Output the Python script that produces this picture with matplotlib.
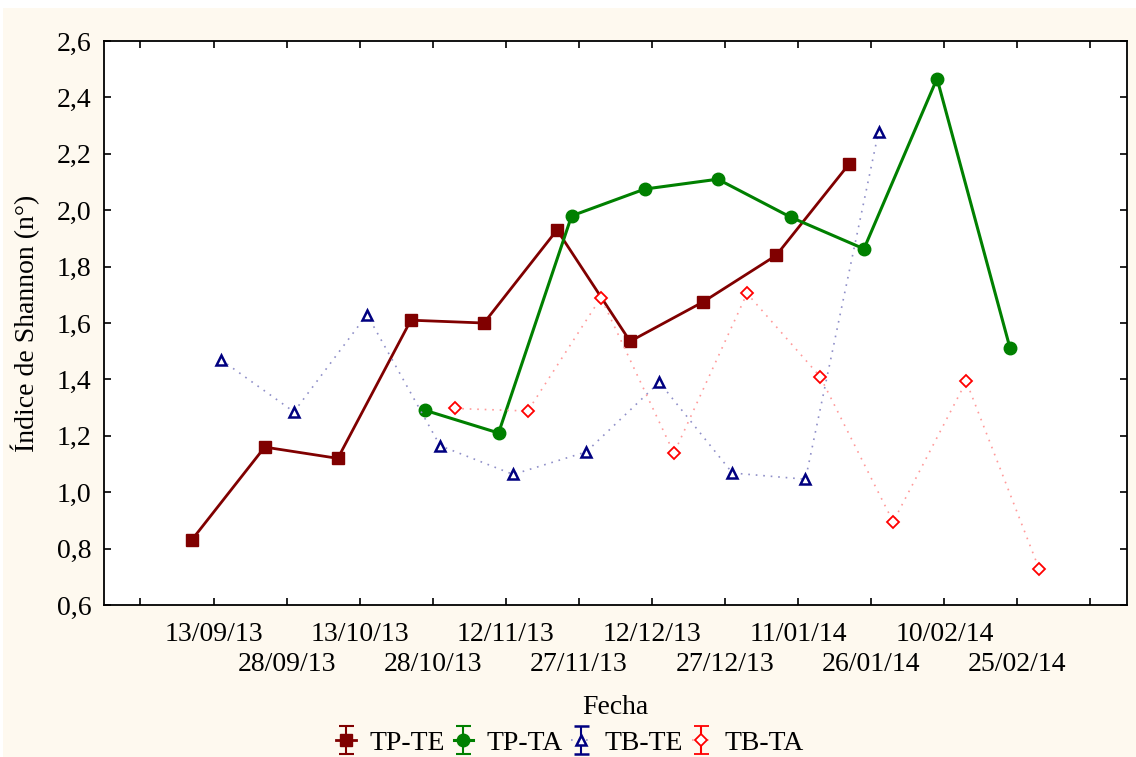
import numpy as np
import matplotlib.pyplot as plt
from matplotlib.patches import Rectangle
from matplotlib.ticker import FuncFormatter, FixedLocator

# fechas de muestreo (eje categórico)
fechas = ["13/09/13", "28/09/13", "13/10/13", "28/10/13", "12/11/13", "27/11/13",
          "12/12/13", "27/12/13", "11/01/14", "26/01/14", "10/02/14", "25/02/14"]

# índice de Shannon por tratamiento
tp_te = [0.83, 1.16, 1.12, 1.61, 1.60, 1.93, 1.535, 1.675, 1.84, 2.165]
tp_ta = [1.29, 1.21, 1.98, 2.075, 2.11, 1.975, 1.863, 2.467, 1.51]
tb_te = [1.47, 1.285, 1.63, 1.165, 1.063, 1.143, 1.39, 1.068, 1.046, 2.278]
tb_ta = [1.297, 1.288, 1.69, 1.138, 1.705, 1.41, 0.895, 1.393, 0.726]

# primera fecha (1-based) de cada serie
inicio_te = 1
inicio_ta = 4

FS = 20
plt.rcParams["font.family"] = ["Liberation Serif", "DejaVu Serif"]
plt.rcParams["font.size"] = FS

fig = plt.figure(figsize=(11.36, 7.57), dpi=100, facecolor="white")
fig.patches.append(Rectangle((3 / 1136, 0), 1, 1 - 8 / 757, transform=fig.transFigure,
                             facecolor="#fef9ef", edgecolor="none", zorder=-10))
ax = fig.add_axes([0.0915, 0.2008, 0.9006, 0.745])
ax.set_facecolor("white")

series = [
    ("TP-TE", tp_te, inicio_te, -0.3,
     dict(color="#800000", lw=2.0, ls="-", marker="s", ms=8.5,
          mfc="#800000", mec="#800000")),
    ("TP-TA", tp_ta, inicio_ta, -0.1,
     dict(color="#008000", lw=2.2, ls="-", marker="o", ms=9,
          mfc="#008000", mec="#008000")),
    ("TB-TE", tb_te, inicio_te, 0.1,
     dict(color="#8f8fc8", lw=1.2, ls=(0, (1, 3.5)), marker="^", ms=7.5,
          mfc="white", mec="#000080", mew=1.8)),
    ("TB-TA", tb_ta, inicio_ta, 0.3,
     dict(color="#ff9a9a", lw=1.2, ls=(0, (1, 3.5)), marker="D", ms=6.3,
          mfc="white", mec="#ff0000", mew=1.3)),
]

handles = []
for nombre, valores, inicio, desp, estilo in series:
    x = np.arange(inicio, inicio + len(valores)) + desp
    ax.plot(x, valores, zorder=3, **estilo)
    # proxy con barra de error solo para la leyenda
    eb = ax.errorbar([np.nan], [np.nan], yerr=[1.0], capsize=5.4,
                     elinewidth=1.5, capthick=1.5, ecolor=estilo["mec"],
                     label=nombre, **estilo)
    handles.append(eb)

ax.set_xlim(-0.5, 13.5)
ax.set_ylim(0.6, 2.6)

# fechas impares en la primera fila (major), pares en la segunda (minor)
pos_major = [0] + list(range(1, 13, 2)) + [13]
pos_minor = list(range(2, 13, 2))
ax.xaxis.set_major_locator(FixedLocator(pos_major))
ax.xaxis.set_minor_locator(FixedLocator(pos_minor))
ax.set_xticklabels([""] + fechas[0::2] + [""])
ax.set_xticklabels(fechas[1::2], minor=True)

ax.set_yticks(np.arange(0.6, 2.61, 0.2))
ax.yaxis.set_major_formatter(FuncFormatter(lambda v, p: f"{v:.1f}".replace(".", ",")))

ax.tick_params(which="both", direction="in", length=5, width=1.2, top=True,
               right=True, labelsize=FS, colors="black")
ax.tick_params(axis="x", which="major", pad=12)
ax.tick_params(axis="x", which="minor", pad=34)
ax.tick_params(axis="y", pad=9)
for s in ax.spines.values():
    s.set_linewidth(1.3)

ax.set_xlabel("Fecha", fontsize=FS, va="center")
ax.xaxis.set_label_coords(0.5, (605 - 708) / 564)
ax.set_ylabel("Índice de Shannon (n°)", fontsize=FS, va="center")
ax.yaxis.set_label_coords((25 - 104) / 1023, 0.5)

fig.legend(handles=handles, loc="center", bbox_to_anchor=(0.502, 1 - 743 / 757),
           ncol=4, frameon=False, handlelength=0.7, handletextpad=0.5,
           columnspacing=0.3, fontsize=FS)

fig.savefig("out.png", dpi=100, facecolor=fig.get_facecolor())
